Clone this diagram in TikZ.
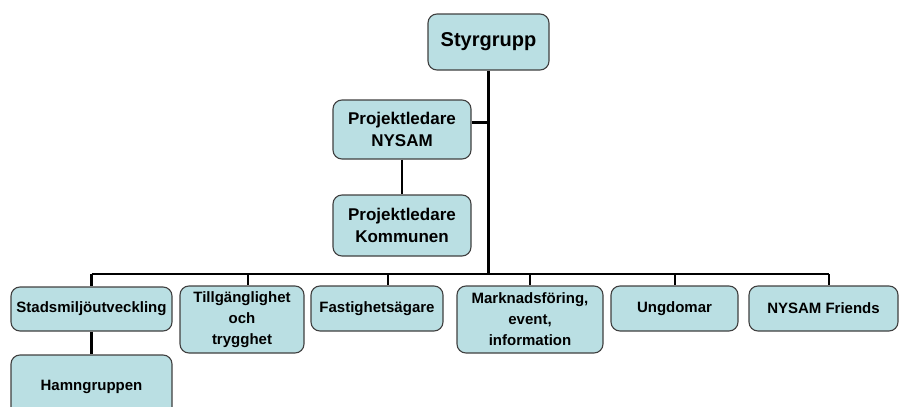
\documentclass[tikz,border=0pt]{standalone}
\usepackage{fontspec}
\setmainfont{Liberation Sans}
\begin{document}
\begin{tikzpicture}[x=1pt,y=-1pt,
  box/.style={draw=black!75, line width=1.1pt, fill=boxfill, rounded corners=9pt,
    align=center, inner sep=2pt, font=\bfseries\fontsize{15}{21}\selectfont},
  big/.style={font=\bfseries\fontsize{20}{24}\selectfont},
  mid/.style={font=\bfseries\fontsize{17}{22}\selectfont},
  conn/.style={line width=2.8pt, black}]
\definecolor{boxfill}{RGB}{186,223,227}
\useasboundingbox (0,0) rectangle (900,407);
\clip (0,0) rectangle (900,407);
% top
\node[box,big,minimum width=121pt,minimum height=56pt] (sty) at (488.5,42) {Styrgrupp};
\node[box,mid,minimum width=138pt,minimum height=59pt] (pn) at (402,129.5) {Projektledare\\NYSAM};
\node[box,mid,minimum width=138pt,minimum height=61pt] (pk) at (402,225.5) {Projektledare\\Kommunen};
% bottom row
\node[box,minimum width=161pt,minimum height=44pt] (sm) at (91.5,309) {Stadsmiljöutveckling};
\node[box,minimum width=124pt,minimum height=67pt] (tg) at (242,319.5) {Tillgänglighet\\och\\trygghet};
\node[box,minimum width=132pt,minimum height=45pt] (fa) at (377,308.5) {Fastighetsägare};
\node[box,minimum width=146pt,minimum height=67pt] (mk) at (530,319.5) {Marknadsföring,\\event,\\information};
\node[box,minimum width=127pt,minimum height=45pt] (ug) at (674.5,308.5) {Ungdomar};
\node[box,minimum width=149pt,minimum height=45pt] (nf) at (823.5,308.5) {NYSAM Friends};
\node[box,minimum width=161pt,minimum height=64pt] (hg) at (91.5,387) {Hamngruppen};
% bus coordinates
\coordinate (b0) at (91.5,274);
\coordinate (bt) at (248,274);
\coordinate (bf) at (388,274);
\coordinate (bm) at (530,274);
\coordinate (bu) at (675,274);
\coordinate (bn) at (829,274);
\coordinate (bc) at (488.5,274);
% connectors
\draw[conn] (sty.south) -- (bc);
\draw[conn] ([yshift=7pt]pn.east) -- ([yshift=7pt]pn.east -| sty.south);
\draw[conn] (pn.south) -- (pk.north);
\draw[conn] (b0) -- (bn);
\draw[conn] (b0) -- (sm.north);
\draw[conn] (bt) -- (bt |- tg.north);
\draw[conn] (bf) -- (bf |- fa.north);
\draw[conn] (bm) -- (mk.north);
\draw[conn] (bu) -- (bu |- ug.north);
\draw[conn] (bn) -- (bn |- nf.north);
\draw[conn] (sm.south) -- (hg.north);
\end{tikzpicture}
\end{document}
